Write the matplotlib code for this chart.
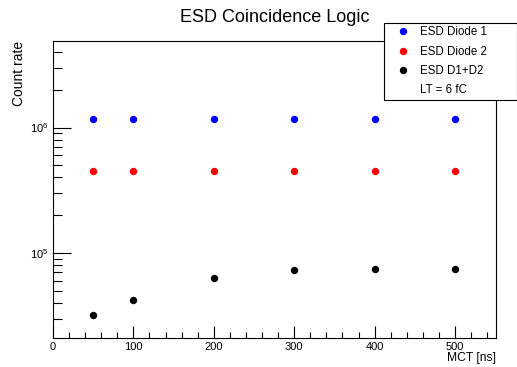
import matplotlib.pyplot as plt
from matplotlib.lines import Line2D
from matplotlib.ticker import MultipleLocator, LogLocator, NullFormatter

plt.rcParams['font.family'] = ['Liberation Sans', 'DejaVu Sans']

mct = [50, 100, 200, 300, 400, 500]
diode1 = [1.16e6, 1.16e6, 1.16e6, 1.16e6, 1.16e6, 1.16e6]
diode2 = [4.5e5, 4.5e5, 4.5e5, 4.5e5, 4.5e5, 4.5e5]
d1d2 = [3.2e4, 4.2e4, 6.3e4, 7.3e4, 7.4e4, 7.4e4]

fig = plt.figure(figsize=(5.17, 3.67), dpi=100)
ax = fig.add_axes([53 / 517, 29 / 367, 443 / 517, 297 / 367])

ax.plot(mct, diode1, 'o', color='#0000ff', ms=4.3, label='ESD Diode 1')
ax.plot(mct, diode2, 'o', color='#ff0000', ms=4.3, label='ESD Diode 2')
ax.plot(mct, d1d2, 'o', color='black', ms=4.3, label='ESD D1+D2')

ax.set_yscale('log')
ax.set_xlim(0, 551)
ax.set_ylim(2.1e4, 4.9e6)

ax.xaxis.set_major_locator(MultipleLocator(100))
ax.xaxis.set_minor_locator(MultipleLocator(20))
ax.yaxis.set_major_locator(LogLocator(base=10))
ax.yaxis.set_minor_locator(LogLocator(base=10, subs=range(2, 10)))
ax.yaxis.set_minor_formatter(NullFormatter())

ax.tick_params(axis='x', which='major', direction='in', length=9, width=0.8, labelsize=8, pad=3)
ax.tick_params(axis='x', which='minor', direction='in', length=4.5, width=0.8)
ax.tick_params(axis='y', which='major', direction='in', length=13, width=0.8, labelsize=8, pad=3)
ax.tick_params(axis='y', which='minor', direction='in', length=6.5, width=0.8)
for s in ax.spines.values():
    s.set_linewidth(0.8)

ax.set_title('ESD Coincidence Logic', fontsize=13, pad=14)
ax.set_xlabel('MCT [ns]', fontsize=8.7, loc='right', labelpad=0)
ax.set_ylabel('Count rate', fontsize=10, loc='top', labelpad=3)

handles, labels = ax.get_legend_handles_labels()
handles.append(Line2D([], [], linestyle='none'))
labels.append('LT = 6 fC')
leg = fig.legend(handles, labels, loc='upper left',
                 bbox_to_anchor=(384 / 517, 1 - 23 / 367, 133 / 517, 0.0),
                 mode='expand', borderaxespad=0, fontsize=8.3, frameon=True,
                 fancybox=False, edgecolor='black', framealpha=1,
                 labelspacing=0.63, handlelength=2.7, handletextpad=0.15,
                 borderpad=0.3)
leg.get_frame().set_linewidth(0.8)

fig.savefig('out.png', dpi=100)
